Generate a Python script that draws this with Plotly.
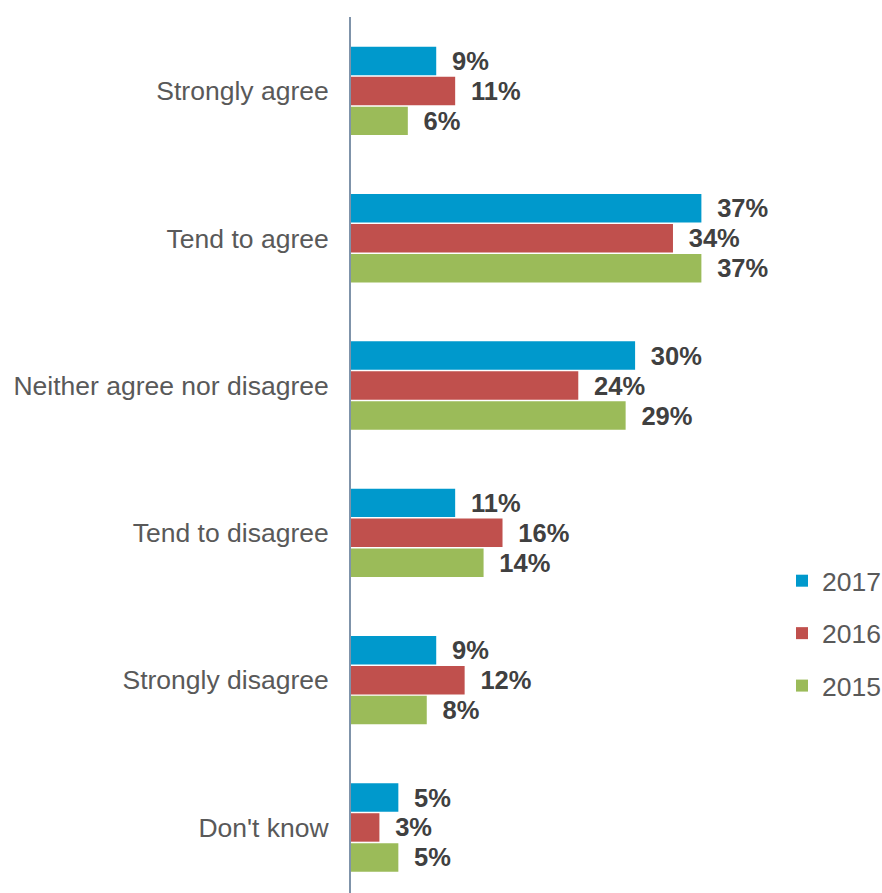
import plotly.graph_objects as go

# Survey response categories (top to bottom)
categories = [
    "Strongly agree",
    "Tend to agree",
    "Neither agree nor disagree",
    "Tend to disagree",
    "Strongly disagree",
    "Don't know",
]

# Share of respondents (%) per year
years = ["2017", "2016", "2015"]
values_2017 = [9, 37, 30, 11, 9, 5]
values_2016 = [11, 34, 24, 16, 12, 3]
values_2015 = [6, 37, 29, 14, 8, 5]

series = [values_2017, values_2016, values_2015]
colors = ["#0099CC", "#C0504D", "#9BBB59"]

FONT = "Liberation Sans, Arial, sans-serif"

fig = go.Figure()
for i, (year, vals, col) in enumerate(zip(years, series, colors)):
    fig.add_trace(
        go.Bar(
            x=vals,
            y=categories,
            orientation="h",
            name=year,
            legendgroup=year,
            marker=dict(color=col, line=dict(width=0)),
            texttemplate="\u2002%{x}%",
            textposition="outside",
            constraintext="none",
            cliponaxis=False,
            textfont=dict(family=FONT, size=25.5, color="#404040", weight="bold"),
            hoverinfo="skip",
        )
    )

# plot area spans the full width to the right of the axis; margins are
# fixed so the legend cannot shrink the plot
PLOT_L = 351
PLOT_W = 882 - PLOT_L
PX_PER_PCT = 9.47

fig.update_layout(
    width=882,
    height=893,
    margin=dict(l=PLOT_L, r=0, t=17, b=0, autoexpand=False),
    paper_bgcolor="white",
    plot_bgcolor="white",
    barmode="group",
    bargap=0.39,
    bargroupgap=0.05,
    showlegend=True,
    legend=dict(
        x=(782 - PLOT_L) / PLOT_W,
        xanchor="left",
        y=0.3836,
        yanchor="top",
        font=dict(family=FONT, size=26.5, color="#595959"),
        tracegroupgap=15,
        itemwidth=30,
        bgcolor="rgba(0,0,0,0)",
    ),
    xaxis=dict(
        range=[0, PLOT_W / PX_PER_PCT],
        visible=False,
        showgrid=False,
        zeroline=False,
    ),
    yaxis=dict(
        type="category",
        range=[5.445, -0.502],
        showline=True,
        linecolor="#7F93AA",
        linewidth=2,
        showgrid=False,
        zeroline=False,
        ticks="",
        ticklabelstandoff=15,
        tickfont=dict(family=FONT, size=26.5, color="#595959"),
    ),
)

fig.write_html("out.html")
